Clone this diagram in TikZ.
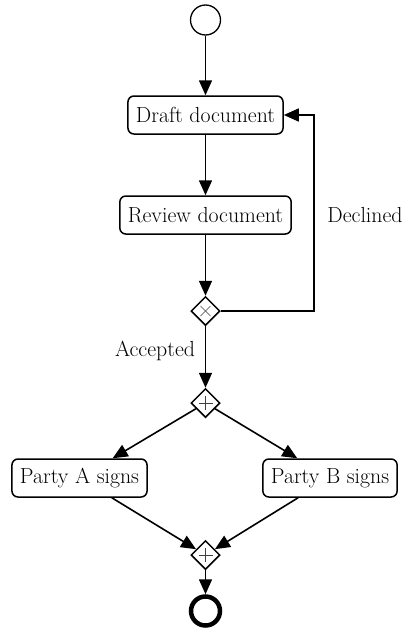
\documentclass[tikz,border=0pt]{standalone}
\usetikzlibrary{arrows.meta,shapes.geometric}
\begin{document}
\begin{tikzpicture}[x=1pt,y=-1pt,
  font=\fontsize{21.8}{26}\selectfont,
  task/.style={draw,line width=1.5pt,rounded corners=6pt,minimum height=38pt,inner xsep=8pt,inner ysep=0pt},
  gate/.style={draw,diamond,line width=1.5pt,minimum width=29pt,minimum height=29pt,inner sep=0pt},
  arr/.style={line width=1.6pt,-{Triangle[length=15pt,width=13pt]}},
  gmark/.style={line width=0.6pt,draw=black!75}
]
\useasboundingbox (0,0) rectangle (404,629);
\node[draw,circle,line width=1.3pt,minimum size=30pt,inner sep=0pt] (start) at (205.5,20) {};
\node[task] (draft) at (205.5,115) {Draft document};
\node[task] (review) at (205.5,215) {Review document};
\node[gate] (xor) at (205.5,311) {};
\draw[gmark] ([shift={(-5,-5)}]xor.center) -- ([shift={(5,5)}]xor.center);
\draw[gmark] ([shift={(-5,5)}]xor.center) -- ([shift={(5,-5)}]xor.center);
\node[gate] (and1) at (205.5,403) {};
\draw[gmark] ([shift={(-7,0)}]and1.center) -- ([shift={(7,0)}]and1.center);
\draw[gmark] ([shift={(0,-7)}]and1.center) -- ([shift={(0,7)}]and1.center);
\node[task] (pa) at (79.5,478) {Party A signs};
\node[task] (pb) at (330,478) {Party B signs};
\node[gate] (and2) at (205.5,555) {};
\draw[gmark] ([shift={(-7,0)}]and2.center) -- ([shift={(7,0)}]and2.center);
\draw[gmark] ([shift={(0,-7)}]and2.center) -- ([shift={(0,7)}]and2.center);
\node[draw,circle,line width=4.5pt,minimum size=29pt,inner sep=0pt] (end) at (205.5,611) {};
\node (declined) at (365,215) {Declined};
\node (accepted) at (155,351) {Accepted};
\coordinate (corner) at (314,311);
\draw[arr] (start) -- (draft);
\draw[arr] (draft) -- (review);
\draw[arr] (review) -- (xor);
\draw[arr] (xor.east) -- (corner) |- (draft.east);
\draw[arr] (xor) -- (and1);
\draw[arr] (and1) -- (pa);
\draw[arr] (and1) -- (pb);
\draw[arr] (pa) -- (and2);
\draw[arr] (pb) -- (and2);
\draw[arr] (and2) -- (end);
\end{tikzpicture}
\end{document}
